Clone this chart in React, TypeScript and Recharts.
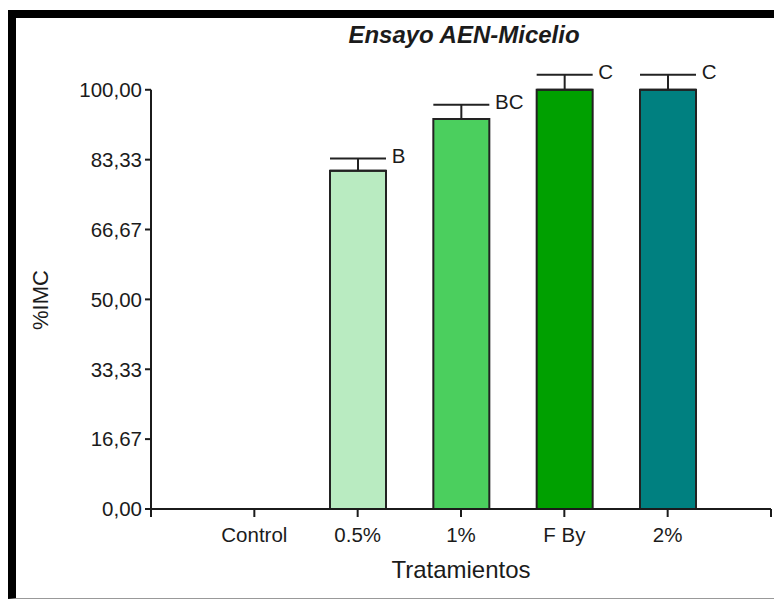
import {
  ComposedChart,
  Bar,
  Cell,
  ErrorBar,
  Scatter,
  XAxis,
  YAxis,
  ReferenceLine,
  Label
} from 'recharts';

// datos
const categories = ['Control', '0.5%', '1%', 'F By', '2%'];
const imcValues = [0, 80.7, 93.0, 100, 100];
const errUp = [null, 2.9, 3.4, 3.6, 3.6];
const letters = ['', 'B', 'BC', 'C', 'C'];
const yTicks = [0, 16.67, 33.33, 50, 66.67, 83.33, 100];
const xTicks = [0, 1, 2, 3, 4, 5, 6];
const barColors = ['#ffffff', '#b9ebc1', '#4bcf5e', '#00a000', '#008080'];

const data = categories.map((name, i) => ({
  x: i + 1,
  name,
  value: imcValues[i],
  err: errUp[i] == null ? null : [0, errUp[i]],
  top: errUp[i] == null ? null : imcValues[i] + (errUp[i] as number),
  letter: letters[i]
}));

const font = '"Liberation Sans", Arial, sans-serif';
const ink = '#1b1b1b';

const LetterMark = (props: any) => {
  const { cx, cy, payload } = props;
  if (cx == null || cy == null || isNaN(cy) || !payload.letter) return null;
  return (
    <text x={cx + 34} y={cy + 4} fontFamily={font} fontSize={20.5} fill={ink}>
      {payload.letter}
    </text>
  );
};

const App = () => {
  return (
    <div
      style={{
        position: 'relative',
        width: 774,
        height: 589,
        marginTop: 2,
        boxSizing: 'border-box',
        borderLeft: '8px solid #000',
        borderTop: '8px solid #000',
        borderBottom: '1px solid #999',
        background: '#fff'
      }}
    >
      <div
        style={{
          position: 'absolute',
          top: 5,
          left: 248,
          width: 400,
          textAlign: 'center',
          fontFamily: font,
          fontSize: 24,
          lineHeight: '24px',
          fontWeight: 'bold',
          fontStyle: 'italic',
          color: ink
        }}
      >
        Ensayo AEN-Micelio
      </div>
      <ComposedChart
        width={766}
        height={570}
        data={data}
        margin={{ top: 55, right: 11, left: 0, bottom: 10 }}
      >
        <XAxis
          dataKey="x"
          type="number"
          domain={[0, 6]}
          ticks={xTicks}
          interval={0}
          height={69}
          tickSize={8}
          tickMargin={10}
          tickFormatter={(v: number) => categories[v - 1] ?? ''}
          tick={{ fill: ink, fontSize: 20.5, fontFamily: font }}
          axisLine={{ stroke: ink, strokeWidth: 2 }}
          tickLine={{ stroke: ink, strokeWidth: 2 }}
        >
          <Label
            value="Tratamientos"
            position="insideBottom"
            offset={0}
            style={{ fontSize: 24, fontFamily: font, fill: ink }}
          />
        </XAxis>
        <YAxis
          type="number"
          domain={[0, 104]}
          ticks={yTicks}
          interval={0}
          width={135}
          tickSize={6}
          tickMargin={3}
          axisLine={false}
          tickFormatter={(v: number) => v.toFixed(2).replace('.', ',')}
          tick={{ fill: ink, fontSize: 20.5, fontFamily: font }}
          tickLine={{ stroke: ink, strokeWidth: 2 }}
        >
          <Label
            content={({ viewBox }: any) => {
              const cx = viewBox.x + 24;
              const cy = viewBox.y + viewBox.height / 2 + 9;
              return (
                <text
                  x={cx}
                  y={cy}
                  transform={`rotate(-90, ${cx}, ${cy})`}
                  textAnchor="middle"
                  dominantBaseline="central"
                  fontFamily={font}
                  fontSize={22}
                  fill={ink}
                >
                  %IMC
                </text>
              );
            }}
          />
        </YAxis>
        <ReferenceLine
          segment={[{ x: 0, y: 0 }, { x: 0, y: 100 }]}
          stroke={ink}
          strokeWidth={2}
        />
        <Bar
          dataKey="value"
          barSize={56}
          stroke="#222"
          strokeWidth={2}
          isAnimationActive={false}
        >
          {data.map((d, i) => (
            <Cell key={d.name} fill={barColors[i]} />
          ))}
          <ErrorBar
            dataKey="err"
            direction="y"
            width={28}
            stroke="#222"
            strokeWidth={2}
            isAnimationActive={false}
          />
        </Bar>
        <Scatter dataKey="top" shape={<LetterMark />} isAnimationActive={false} />
      </ComposedChart>
    </div>
  );
};

export default App;
